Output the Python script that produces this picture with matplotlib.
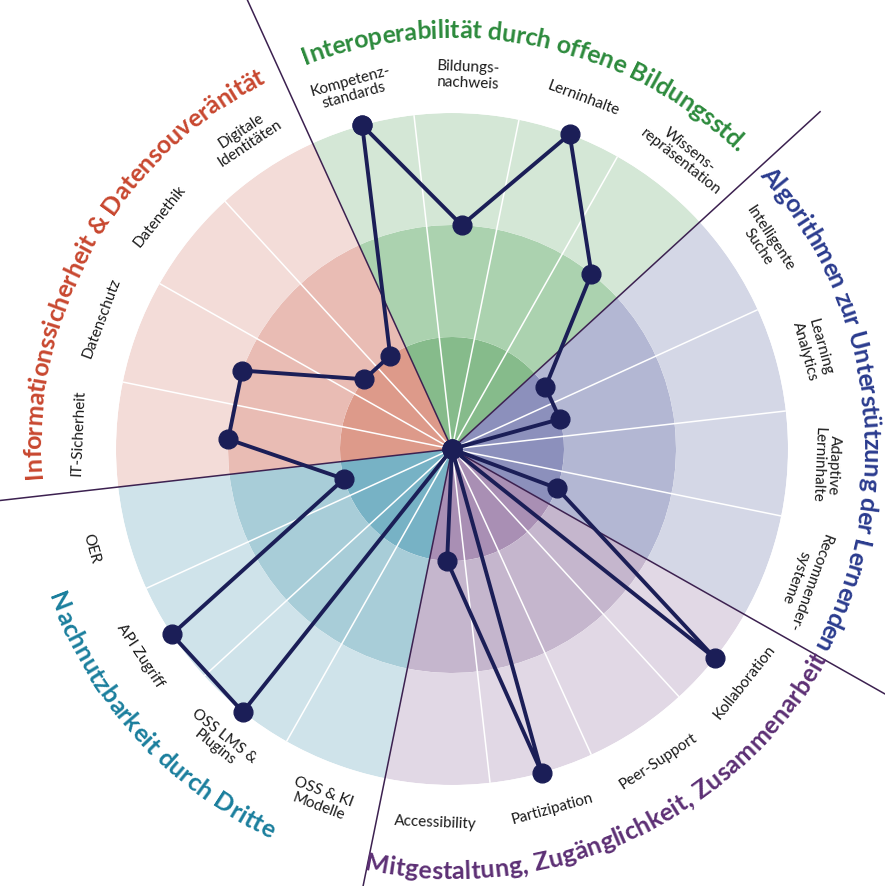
import numpy as np
import matplotlib
matplotlib.use("Agg")
import matplotlib.pyplot as plt
from matplotlib.font_manager import FontProperties

# ---------------- data ----------------
categories = [
    "Interoperabilität durch offene Bildungsstd.",
    "Algorithmen zur Unterstützung der Lernenden",
    "Mitgestaltung, Zugänglichkeit, Zusammenarbeit",
    "Nachnutzbarkeit durch Dritte",
    "Informationssicherheit & Datensouveränität",
]
items_green = ["Kompetenz-\nstandards", "Bildungs-\nnachweis", "Lerninhalte", "Wissens-\nrepräsentation"]
items_blue = ["Intelligente\nSuche", "Learning\nAnalytics", "Adaptive\nLerninhalte", "Recommender-\nsysteme"]
items_purple = ["Kollaboration", "Peer-Support", "Partizipation", "Accessibility"]
items_teal = ["OSS & KI\nModelle", "OSS LMS &\nPlugins", "API Zugriff", "OER"]
items_red = ["IT-Sicherheit", "Datenschutz", "Datenethik", "Digitale\nIdentitäten"]

values_green = [3, 2, 3, 2]
values_blue = [1, 1, 0, 1]
values_purple = [3, 0, 3, 1]
values_teal = [0, 3, 3, 1]
values_red = [2, 2, 1, 1]

ring_levels = [1, 2, 3]

# ---------------- styles ----------------
title_colors = ["#2c8a3c", "#2a3b8e", "#5c2f74", "#1a7e9d", "#c8472f"]
ring_colors = [  # inner, middle, outer
    ["#86bb8b", "#abd2af", "#d4e7d6"],
    ["#8c90bc", "#b3b7d3", "#d4d7e6"],
    ["#a98fb4", "#c5b6cd", "#e1d8e5"],
    ["#77b2c5", "#a8cdd8", "#cfe3ea"],
    ["#dd9a8a", "#e9bcb4", "#f3dcd8"],
]
flipped = [False, False, True, True, False]
NAVY = "#1b1e57"
BOUND = "#3c2150"
FONT = ["Lato", "DejaVu Sans"]

items_all = [items_green, items_blue, items_purple, items_teal, items_red]
values_all = [values_green, values_blue, values_purple, values_teal, values_red]

W, H = 885, 886
fig = plt.figure(figsize=(W / 100, H / 100), dpi=100)
CX, CY = 452, 886 - 449
R = 336
VMAX = ring_levels[-1]
ax = fig.add_axes([(CX - R) / W, (CY - R) / H, 2 * R / W, 2 * R / H], projection="polar")
ax.set_theta_zero_location("N")
ax.set_theta_direction(-1)
ax.set_ylim(0, VMAX)
ax.set_axis_off()


def px(p):
    return p * VMAX / R


START = -24.5
SUB = 18.0
CAT = 72.0

# wedges
for c in range(5):
    th_c = START + CAT * c + CAT / 2
    bottom = 0
    for k, lvl in enumerate(ring_levels):
        ax.bar(np.radians(th_c), lvl - bottom, width=np.radians(CAT), bottom=bottom,
               color=ring_colors[c][k], edgecolor="none", align="center", zorder=1)
        bottom = lvl

# divider lines
for j in range(20):
    th = np.radians(START + SUB * j)
    if j % 4 == 0:
        ax.plot([th, th], [0, px(500)], color=BOUND, lw=1.1, clip_on=False, zorder=3,
                solid_capstyle="butt")
    else:
        ax.plot([th, th], [0, VMAX], color="white", lw=1.1, zorder=2)

# data polygon
vals = np.concatenate([np.array(v, float) for v in values_all])
thetas = np.radians(START + SUB / 2 + SUB * np.arange(len(vals)))
ax.plot(np.append(thetas, thetas[0]), np.append(vals, vals[0]), color=NAVY, lw=2.8,
        marker="o", ms=13.5, zorder=5, clip_on=False)

# item labels
for c in range(5):
    for k, lab in enumerate(items_all[c]):
        th = START + SUB / 2 + SUB * (4 * c + k)
        rot = (180 - th) if flipped[c] else -th
        rot = ((rot + 180) % 360) - 180
        ax.text(np.radians(th), px(374), lab, rotation=rot, rotation_mode="anchor",
                ha="center", va="center", multialignment="center", fontsize=11,
                family=FONT, color="#1a1a1a", linespacing=1.1, zorder=6)

# curved category titles
renderer = fig.canvas.get_renderer()
fp = FontProperties(family=FONT, weight="bold", size=18)


def tw(s):
    return renderer.get_text_width_height_descent(s, fp, ismath=False)[0]


def curved(text, center_deg, flip, color):
    pos = [tw(text[:i] + "|") for i in range(len(text) + 1)]
    total = pos[-1] - pos[0]
    r_mid = 419.0
    r_base = 430.0 if flip else 411.0
    for i, ch in enumerate(text):
        if ch == " ":
            continue
        off = (pos[i] + pos[i + 1]) / 2 - pos[0] - total / 2
        d = np.degrees(off / r_mid)
        th = center_deg - d if flip else center_deg + d
        rot = (180 - th) if flip else -th
        ax.text(np.radians(th), px(r_base), ch, fontproperties=fp, color=color,
                rotation=rot, rotation_mode="anchor", ha="center", va="baseline",
                zorder=6)


for c in range(5):
    curved(categories[c], START + CAT * c + CAT / 2, flipped[c], title_colors[c])

fig.savefig("out.png", dpi=100)
